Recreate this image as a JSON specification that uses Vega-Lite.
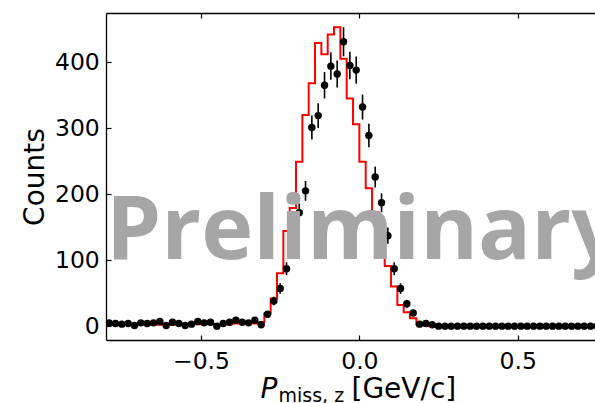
{
  "$schema": "https://vega.github.io/schema/vega-lite/v6.json",
  "width": 489,
  "height": 327,
  "autosize": {"type": "none"},
  "padding": {"left": 106, "top": 13, "right": 0, "bottom": 63},
  "background": "white",
  "view": {"stroke": null},
  "config": {
    "font": "DejaVu Sans",
    "axis": {
      "grid": false,
      "domainColor": "black",
      "domainWidth": 1.3,
      "tickColor": "black",
      "tickWidth": 1.2,
      "labelColor": "black",
      "titleColor": "black",
      "labelFont": "DejaVu Sans",
      "titleFont": "DejaVu Sans",
      "titleFontWeight": "normal"
    }
  },
  "datasets": {
    "data": [
      {"c": -0.79, "v": 5, "e": 2.2}, {"c": -0.77, "v": 4, "e": 2}, {"c": -0.75, "v": 3, "e": 1.7}, {"c": -0.73, "v": 4, "e": 2},
      {"c": -0.71, "v": 1, "e": 1}, {"c": -0.69, "v": 5, "e": 2.2}, {"c": -0.67, "v": 4, "e": 2}, {"c": -0.65, "v": 5, "e": 2.2},
      {"c": -0.63, "v": 7, "e": 2.6}, {"c": -0.61, "v": 1, "e": 1}, {"c": -0.59, "v": 6, "e": 2.4}, {"c": -0.57, "v": 4, "e": 2},
      {"c": -0.55, "v": 1, "e": 1}, {"c": -0.53, "v": 3, "e": 1.7}, {"c": -0.51, "v": 7, "e": 2.6}, {"c": -0.49, "v": 5, "e": 2.2},
      {"c": -0.47, "v": 6, "e": 2.4}, {"c": -0.45, "v": 0, "e": 0}, {"c": -0.43, "v": 4, "e": 2}, {"c": -0.41, "v": 6, "e": 2.4},
      {"c": -0.39, "v": 9, "e": 3}, {"c": -0.37, "v": 6, "e": 2.4}, {"c": -0.35, "v": 5, "e": 2.2}, {"c": -0.33, "v": 9, "e": 3},
      {"c": -0.31, "v": 2, "e": 1.4}, {"c": -0.29, "v": 18, "e": 4.4}, {"c": -0.27, "v": 38, "e": 6.5}, {"c": -0.25, "v": 57, "e": 8},
      {"c": -0.23, "v": 87, "e": 9.8}, {"c": -0.21, "v": 140, "e": 12.5}, {"c": -0.19, "v": 172, "e": 13.8}, {"c": -0.17, "v": 205, "e": 15},
      {"c": -0.15, "v": 301, "e": 18}, {"c": -0.13, "v": 319, "e": 18.6}, {"c": -0.11, "v": 365, "e": 20}, {"c": -0.09, "v": 394, "e": 20.7},
      {"c": -0.07, "v": 382, "e": 20.4}, {"c": -0.05, "v": 431, "e": 22}, {"c": -0.03, "v": 395, "e": 20.8}, {"c": -0.01, "v": 388, "e": 20.6},
      {"c": 0.01, "v": 332, "e": 19}, {"c": 0.03, "v": 289, "e": 17.8}, {"c": 0.05, "v": 226, "e": 15.8}, {"c": 0.07, "v": 187, "e": 14.4},
      {"c": 0.09, "v": 137, "e": 12.3}, {"c": 0.11, "v": 87, "e": 9.8}, {"c": 0.13, "v": 57, "e": 8}, {"c": 0.15, "v": 34, "e": 6},
      {"c": 0.17, "v": 20, "e": 4.6}, {"c": 0.19, "v": 3, "e": 1.7}, {"c": 0.21, "v": 4, "e": 2}, {"c": 0.23, "v": 2, "e": 1.4},
      {"c": 0.25, "v": 0, "e": 0}, {"c": 0.27, "v": 0, "e": 0}, {"c": 0.29, "v": 0, "e": 0}, {"c": 0.31, "v": 0, "e": 0},
      {"c": 0.33, "v": 0, "e": 0}, {"c": 0.35, "v": 0, "e": 0}, {"c": 0.37, "v": 0, "e": 0}, {"c": 0.39, "v": 0, "e": 0},
      {"c": 0.41, "v": 0, "e": 0}, {"c": 0.43, "v": 0, "e": 0}, {"c": 0.45, "v": 0, "e": 0}, {"c": 0.47, "v": 0, "e": 0},
      {"c": 0.49, "v": 0, "e": 0}, {"c": 0.51, "v": 0, "e": 0}, {"c": 0.53, "v": 0, "e": 0}, {"c": 0.55, "v": 0, "e": 0},
      {"c": 0.57, "v": 0, "e": 0}, {"c": 0.59, "v": 0, "e": 0}, {"c": 0.61, "v": 0, "e": 0}, {"c": 0.63, "v": 0, "e": 0},
      {"c": 0.65, "v": 0, "e": 0}, {"c": 0.67, "v": 0, "e": 0}, {"c": 0.69, "v": 0, "e": 0}, {"c": 0.71, "v": 0, "e": 0},
      {"c": 0.73, "v": 0, "e": 0}, {"c": 0.75, "v": 0, "e": 0}, {"c": 0.77, "v": 0, "e": 0}, {"c": 0.79, "v": 0, "e": 0}
    ],
    "sim": [
      {"c": -0.79, "n": 2}, {"c": -0.77, "n": 2}, {"c": -0.75, "n": 2}, {"c": -0.73, "n": 2}, {"c": -0.71, "n": 2},
      {"c": -0.69, "n": 2}, {"c": -0.67, "n": 2}, {"c": -0.65, "n": 2}, {"c": -0.63, "n": 2}, {"c": -0.61, "n": 2},
      {"c": -0.59, "n": 2}, {"c": -0.57, "n": 2}, {"c": -0.55, "n": 2}, {"c": -0.53, "n": 3}, {"c": -0.51, "n": 3},
      {"c": -0.49, "n": 3}, {"c": -0.47, "n": 3}, {"c": -0.45, "n": 3}, {"c": -0.43, "n": 3}, {"c": -0.41, "n": 3},
      {"c": -0.39, "n": 4}, {"c": -0.37, "n": 4}, {"c": -0.35, "n": 4}, {"c": -0.33, "n": 4}, {"c": -0.31, "n": 6},
      {"c": -0.29, "n": 19}, {"c": -0.27, "n": 42}, {"c": -0.25, "n": 80}, {"c": -0.23, "n": 144}, {"c": -0.21, "n": 179},
      {"c": -0.19, "n": 249}, {"c": -0.17, "n": 320}, {"c": -0.15, "n": 368}, {"c": -0.13, "n": 429}, {"c": -0.11, "n": 412},
      {"c": -0.09, "n": 442}, {"c": -0.07, "n": 453}, {"c": -0.05, "n": 405}, {"c": -0.03, "n": 345}, {"c": -0.01, "n": 306},
      {"c": 0.01, "n": 249}, {"c": 0.03, "n": 209}, {"c": 0.05, "n": 173}, {"c": 0.07, "n": 130}, {"c": 0.09, "n": 91},
      {"c": 0.11, "n": 60}, {"c": 0.13, "n": 32}, {"c": 0.15, "n": 21}, {"c": 0.17, "n": 12}, {"c": 0.19, "n": 3},
      {"c": 0.21, "n": 1}, {"c": 0.23, "n": 0}, {"c": 0.25, "n": 0}, {"c": 0.27, "n": 0}, {"c": 0.29, "n": 0},
      {"c": 0.31, "n": 0}, {"c": 0.33, "n": 0}, {"c": 0.35, "n": 0}, {"c": 0.37, "n": 0}, {"c": 0.39, "n": 0},
      {"c": 0.41, "n": 0}, {"c": 0.43, "n": 0}, {"c": 0.45, "n": 0}, {"c": 0.47, "n": 0}, {"c": 0.49, "n": 0},
      {"c": 0.51, "n": 0}, {"c": 0.53, "n": 0}, {"c": 0.55, "n": 0}, {"c": 0.57, "n": 0}, {"c": 0.59, "n": 0},
      {"c": 0.61, "n": 0}, {"c": 0.63, "n": 0}, {"c": 0.65, "n": 0}, {"c": 0.67, "n": 0}, {"c": 0.69, "n": 0},
      {"c": 0.71, "n": 0}, {"c": 0.73, "n": 0}, {"c": 0.75, "n": 0}, {"c": 0.77, "n": 0}, {"c": 0.79, "n": 0}
    ]
  },
  "layer": [
    {
      "data": {"name": "sim"},
      "mark": {"type": "line", "interpolate": "step", "color": "#ff0000", "strokeWidth": 2, "clip": true},
      "encoding": {
        "x": {
          "field": "c", "type": "quantitative",
          "scale": {"domain": [-0.8, 0.744], "nice": false, "zero": false},
          "axis": {
            "orient": "bottom", "values": [-0.5, 0, 0.5], "format": ".1f",
            "tickSize": -5, "labelPadding": 14.5, "labelFontSize": 23.5,
            "title": "P", "titleFontSize": 28, "titleFontStyle": "italic",
            "titleX": 154, "titleY": 57.5, "titleAlign": "left", "titleBaseline": "alphabetic"
          }
        },
        "y": {
          "field": "n", "type": "quantitative",
          "scale": {"domain": [-21, 474.5], "nice": false, "zero": false},
          "axis": {
            "orient": "left", "values": [0, 100, 200, 300, 400],
            "tickSize": -5, "labelPadding": 11.7, "labelFontSize": 23.5,
            "title": "Counts", "titleFontSize": 28, "titleAngle": 270,
            "titleX": -63, "titleY": 163.5, "titleAlign": "center", "titleBaseline": "alphabetic"
          }
        }
      }
    },
    {
      "data": {"name": "data"},
      "mark": {"type": "errorbar", "ticks": false, "color": "black", "thickness": 1.6, "clip": true},
      "encoding": {
        "x": {"field": "c", "type": "quantitative", "axis": null},
        "y": {"field": "v", "type": "quantitative", "axis": null},
        "yError": {"field": "e"}
      }
    },
    {
      "data": {"name": "data"},
      "mark": {"type": "point", "filled": true, "color": "black", "opacity": 1, "size": 55, "clip": true},
      "encoding": {
        "x": {
          "field": "c", "type": "quantitative",
          "axis": {
            "orient": "top", "values": [-0.5, 0, 0.5], "labels": false, "tickSize": -5,
            "title": "miss, z", "titleFontSize": 19, "titleX": 172, "titleY": 388,
            "titleAlign": "left", "titleBaseline": "alphabetic"
          }
        },
        "y": {
          "field": "v", "type": "quantitative",
          "axis": {
            "orient": "right", "labels": false, "ticks": false, "domain": false,
            "title": "[GeV/c]", "titleFontSize": 28, "titleAngle": 0,
            "titleX": -244, "titleY": 384.5, "titleAlign": "left", "titleBaseline": "alphabetic"
          }
        }
      }
    },
    {
      "data": {"values": [{"label": "Preliminary"}]},
      "mark": {"type": "text", "fontSize": 88, "fontWeight": "bold", "color": "#a6a6a6", "align": "left", "baseline": "alphabetic", "font": "Open Sans"},
      "encoding": {
        "x": {"datum": -0.8, "type": "quantitative", "axis": null},
        "y": {"datum": 101, "type": "quantitative", "axis": null},
        "text": {"field": "label"}
      }
    }
  ],
  "resolve": {"axis": {"x": "independent", "y": "independent"}}
}
